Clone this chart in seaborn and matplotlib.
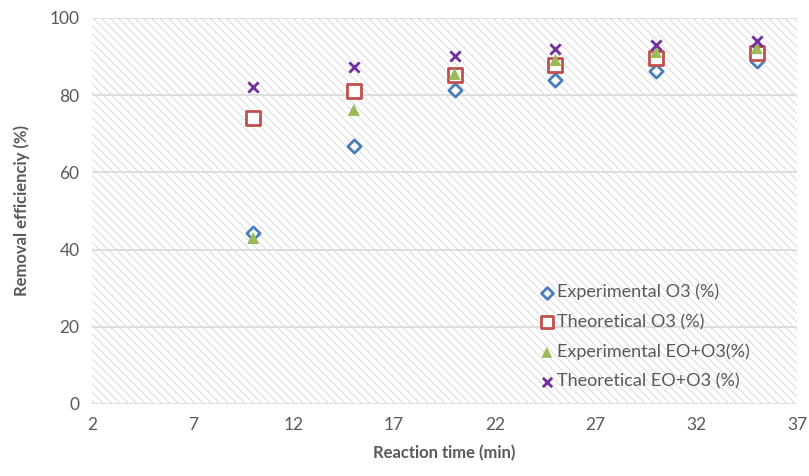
import matplotlib
matplotlib.use("Agg")
import matplotlib.pyplot as plt
import matplotlib.patches as mpatches
import seaborn as sns
import pandas as pd

# ================= DATA =================
reaction_time = [10, 15, 20, 25, 30, 35]
exp_o3 = [44.3, 66.8, 81.3, 83.9, 86.3, 88.9]
theo_o3 = [74.1, 81.1, 85.2, 87.8, 89.6, 90.9]
exp_eo_o3 = [43.0, 76.2, 85.5, 89.1, 91.2, 92.2]
theo_eo_o3 = [82.1, 87.3, 90.2, 92.0, 93.0, 94.0]

x_ticks = [2, 7, 12, 17, 22, 27, 32, 37]
y_ticks = [0, 20, 40, 60, 80, 100]

TEXT = "#595959"
GRID = "#dcdcdc"

sns.set_style("white")
plt.rcParams["font.family"] = ["Lato", "DejaVu Sans"]
plt.rcParams["hatch.linewidth"] = 0.8
plt.rcParams["hatch.color"] = "#dedede"

df = pd.DataFrame({"t": reaction_time, "exp_o3": exp_o3, "theo_o3": theo_o3,
                   "exp_eo": exp_eo_o3, "theo_eo": theo_eo_o3})

fig = plt.figure(figsize=(8.09, 4.76), dpi=100)
ax = fig.add_axes([92 / 809, 1 - 404 / 476, 705 / 809, 386 / 476])

# hatched plot-area background
ax.add_patch(mpatches.Rectangle((0, 0), 1, 1, transform=ax.transAxes, fill=False,
                                hatch="\\\\\\\\", edgecolor="#dedede", linewidth=0, zorder=0))

for yv in y_ticks:
    ax.axhline(yv, color=GRID, lw=1.3, zorder=1)

sns.scatterplot(data=df, x="t", y="exp_o3", marker="D", s=45, facecolor="white",
                edgecolor="#4a7ebb", linewidth=2, label="Experimental O3 (%)", ax=ax, zorder=3)
sns.scatterplot(data=df, x="t", y="theo_o3", marker="s", s=95, facecolor="white",
                edgecolor="#c0504d", linewidth=2, label="Theoretical O3 (%)", ax=ax, zorder=3)
sns.scatterplot(data=df, x="t", y="exp_eo", marker="^", s=75, color="#9bbb59",
                edgecolor="none", label="Experimental EO+O3(%)", ax=ax, zorder=4)
sns.scatterplot(data=df, x="t", y="theo_eo", marker="x", s=55, color="#7030a0",
                linewidth=2, label="Theoretical EO+O3 (%)", ax=ax, zorder=5)

ax.set_xlim(2, 37)
ax.set_ylim(0, 100)
ax.set_xticks(x_ticks)
ax.set_yticks(y_ticks)
ax.tick_params(length=0, labelsize=12.5, colors=TEXT, pad=9)
for sp in ax.spines.values():
    sp.set_visible(False)

ax.set_xlabel("Reaction time (min)", fontsize=12, fontweight="bold", color=TEXT, labelpad=9)
ax.set_ylabel("Removal efficienciy (%)", fontsize=12, fontweight="bold", color=TEXT, labelpad=14)

leg = ax.legend(loc="upper left", bbox_to_anchor=(0.622, 0.33), frameon=False,
                fontsize=13, labelcolor=TEXT, handletextpad=0.05, labelspacing=0.75,
                handlelength=1.0, borderaxespad=0, markerscale=0.9)

fig.savefig("out.png", dpi=100)
